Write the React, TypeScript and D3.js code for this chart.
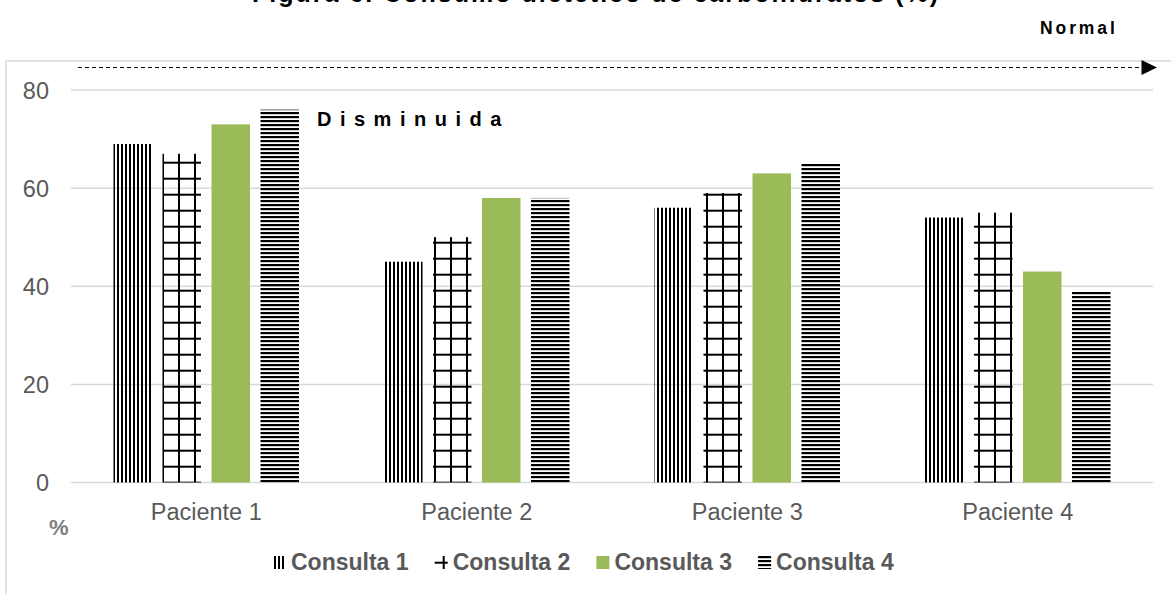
import * as d3 from "d3";
import React from "react";

const width = 1171;
const height = 594;

// data
const pacientes = ["Paciente 1", "Paciente 2", "Paciente 3", "Paciente 4"];
const consultas = ["Consulta 1", "Consulta 2", "Consulta 3", "Consulta 4"];
const consulta1 = [69, 45, 56, 54];
const consulta2 = [67, 50, 59, 55];
const consulta3 = [73, 58, 63, 43];
const consulta4 = [76, 58, 65, 39];
const yTicks = [0, 20, 40, 60, 80];

const series = [consulta1, consulta2, consulta3, consulta4];
const fills = ["url(#pVert)", "url(#pGrid)", "#9BBB59", "url(#pHorz)"];

const plot = { left: 71, right: 1153, top: 90, bottom: 482.5 };
const gray = "#595959";
const grid = "#d9d9d9";
const font = "'Liberation Sans', Arial, sans-serif";

export default function App() {
  const x0 = d3
    .scaleBand()
    .domain(pacientes)
    .range([plot.left, plot.right])
    .padding(0);
  const groupW = 185.5;
  const x1 = d3
    .scaleBand()
    .domain(consultas)
    .range([0, groupW])
    .paddingInner(0.214)
    .paddingOuter(0);
  const y = d3
    .scaleLinear()
    .domain([0, 80])
    .range([plot.bottom, plot.top]);

  const bars: any[] = [];
  pacientes.forEach((p, i) => {
    consultas.forEach((c, j) => {
      bars.push({ p, c, v: series[j][i], fill: fills[j] });
    });
  });

  // legend swatch offsets so the patterns look like the reference
  const swatchShift = [
    [0, 0],
    [-6, -4],
    [0, 0],
    [0, 0],
  ];

  return (
    <svg
      width={width}
      height={height}
      style={{ position: "absolute", left: 0, top: 0, background: "#fff" }}
      fontFamily={font}
    >
      <defs>
        <pattern id="pVert" patternUnits="userSpaceOnUse" x={1} y={0} width={4} height={4}>
          <rect x={0} y={0} width={2} height={4} fill="#000" />
        </pattern>
        <pattern id="pHorz" patternUnits="userSpaceOnUse" x={0} y={0} width={4} height={4}>
          <rect x={0} y={0} width={4} height={2.2} fill="#000" />
        </pattern>
        <pattern id="pGrid" patternUnits="userSpaceOnUse" x={0} y={0} width={16} height={16}>
          <rect x={2} y={0} width={2} height={16} fill="#000" />
          <rect x={0} y={1.7} width={16} height={2} fill="#000" />
        </pattern>
      </defs>

      {/* title (cut off at top in the reference) */}
      <text
        x={252}
        y={1.5}
        fontSize={25}
        fontWeight="bold"
        fill="#000"
        textLength={686}
        lengthAdjust="spacing"
      >
        Figura 6. Consumo dietético de carbohidratos (%)
      </text>

      {/* chart frame */}
      <rect x={6} y={61} width={1180} height={560} fill="#fff" stroke={grid} strokeWidth={1.5} />

      {/* "Normal" reference arrow */}
      <text
        x={1040}
        y={33.5}
        fontSize={17.5}
        fontWeight="bold"
        fill="#000"
        letterSpacing={2.9}
      >
        Normal
      </text>
      <line
        x1={78}
        x2={1142}
        y1={67.5}
        y2={67.5}
        stroke="#000"
        strokeWidth={1.2}
        strokeDasharray="4 3"
      />
      <path d="M1141.5,60 L1157,67.5 L1141.5,75 Z" fill="#000" />

      {/* grid */}
      {yTicks.map((t) => (
        <g key={t}>
          <line
            x1={plot.left}
            x2={plot.right}
            y1={y(t)}
            y2={y(t)}
            stroke={grid}
            strokeWidth={1.5}
          />
          <text
            x={49}
            y={y(t) + 8.5}
            textAnchor="end"
            fontSize={23.5}
            fill={gray}
          >
            {t}
          </text>
        </g>
      ))}

      {/* bars */}
      {bars.map((b, i) => {
        const gx = (x0(b.p) as number) + (x0.bandwidth() - groupW) / 2;
        return (
          <rect
            key={i}
            x={gx + (x1(b.c) as number)}
            y={y(b.v)}
            width={x1.bandwidth()}
            height={y(0) - y(b.v)}
            fill={b.fill}
          />
        );
      })}

      {/* "Disminuida" label */}
      <text x={317} y={125.5} fontSize={20} fontWeight="bold" fill="#000" letterSpacing={8.5}>
        Disminuida
      </text>

      {/* x labels */}
      {pacientes.map((p) => (
        <text
          key={p}
          x={(x0(p) as number) + x0.bandwidth() / 2}
          y={519.5}
          textAnchor="middle"
          fontSize={23.5}
          fill={gray}
        >
          {p}
        </text>
      ))}

      <text x={49} y={535} fontSize={22} fontWeight="bold" fill="#7f7f7f">
        %
      </text>

      {/* legend */}
      {consultas.map((c, i) => {
        const lx = 273 + i * 161.7;
        const [dx, dy] = swatchShift[i];
        return (
          <g key={c} transform={`translate(${lx},556)`}>
            <g transform={`translate(${-dx},${-dy})`}>
              <rect x={dx} y={dy} width={13} height={13} fill={fills[i]} />
            </g>
            <text x={18} y={14} fontSize={23} fontWeight="bold" fill={gray}>
              {c}
            </text>
          </g>
        );
      })}
    </svg>
  );
}
